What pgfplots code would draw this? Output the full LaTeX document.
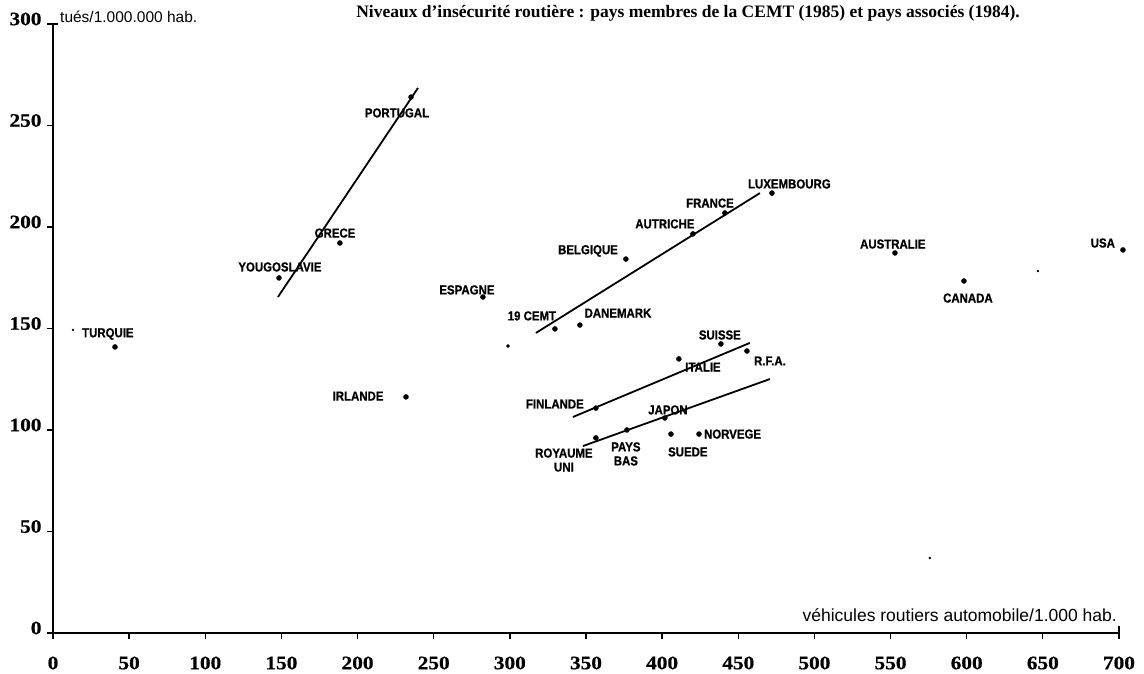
\documentclass[border=0pt]{standalone}
\usepackage{fontspec}
\usepackage{pgfplots}
\pgfplotsset{compat=1.18}
\setmainfont{Liberation Serif}
\newfontfamily\tickf[FakeStretch=1.12, FakeBold=0.6]{Liberation Serif}
\newfontfamily\labf[FakeStretch=0.88, FakeBold=0.8]{Liberation Sans}
\newfontfamily\axf{Liberation Sans}
\tikzset{lab/.style={font=\labf\bfseries\fontsize{13}{14}\selectfont, inner sep=0pt, align=center}}
\begin{document}
\begin{tikzpicture}
\useasboundingbox (0,0) rectangle (1144pt,674pt);
\begin{axis}[
  at={(53pt,41pt)}, anchor=south west,
  scale only axis, width=1066pt, height=609pt,
  xmin=0, xmax=700, ymin=0, ymax=300,
  clip=false,
  axis x line=bottom, axis y line=left,
  axis line style={-, line width=2.2pt, black},
  xtick={0,50,...,700}, ytick={0,50,...,300},
  tick align=outside, major tick length=6pt,
  tick style={line width=1.3pt, black},
  /pgf/number format/assume math mode=true,
  ticklabel style={font=\tickf\bfseries\fontsize{19}{19}\selectfont},
  xticklabel style={anchor=center, yshift=-24pt},
  yticklabel style={anchor=east, xshift=-2pt, yshift=5pt},
]
% regression lines
\addplot[black, line width=1.8pt] coordinates {(147.7,165.5) (239.7,268.5)};
\addplot[black, line width=1.8pt] coordinates {(317.1,147.8) (464.2,216.7)};
\addplot[black, line width=1.8pt] coordinates {(341.4,106.4) (457.6,142.9)};
\addplot[black, line width=1.8pt] coordinates {(348.0,92.1) (470.8,125.1)};
% countries
\addplot[only marks, mark=*, mark size=2.5pt, black] coordinates {
 (235.1,264.0) (188.4,192.1) (148.4,174.9) (282.3,165.5) (472.1,216.7)
 (441.2,206.9) (420.2,196.6) (376.2,184.2) (329.6,149.8) (346.0,151.7)
 (438.6,142.4) (455.7,138.9) (411.0,135.0) (356.5,110.8) (401.8,105.9)
 (356.5,96.1) (376.9,100.0) (405.8,98.0) (424.2,98.0) (40.7,140.9)
 (231.8,116.3) (552.9,187.2) (598.2,173.4) (702.6,188.7)};
\addplot[only marks, mark=*, mark size=1.6pt, black] coordinates {(298.8,141.4)};
\addplot[only marks, mark=*, mark size=1pt, black] coordinates {(13.1,149.3) (646.8,178.3) (575.8,36.9)};
% labels
\node[lab] at (axis cs:225.9,256.2) {PORTUGAL};
\node[lab] at (axis cs:185.2,197.0) {GRECE};
\node[lab] at (axis cs:149.0,180.3) {YOUGOSLAVIE};
\node[lab] at (axis cs:271.8,169.0) {ESPAGNE};
\node[lab, anchor=west] at (axis cs:456.3,221.2) {LUXEMBOURG};
\node[lab] at (axis cs:431.4,211.8) {FRANCE};
\node[lab] at (axis cs:401.8,201.5) {AUTRICHE};
\node[lab] at (axis cs:351.3,188.2) {BELGIQUE};
\node[lab] at (axis cs:314.5,156.2) {19 CEMT};
\node[lab] at (axis cs:371.0,157.6) {DANEMARK};
\node[lab] at (axis cs:437.9,146.8) {SUISSE};
\node[lab] at (axis cs:470.8,134.0) {R.F.A.};
\node[lab] at (axis cs:426.8,131.0) {ITALIE};
\node[lab] at (axis cs:329.6,112.8) {FINLANDE};
\node[lab] at (axis cs:403.8,109.9) {JAPON};
\node[lab] at (axis cs:335.5,85.2) {ROYAUME\\UNI};
\node[lab] at (axis cs:376.2,88.2) {PAYS\\BAS};
\node[lab] at (axis cs:416.9,89.2) {SUEDE};
\node[lab, anchor=west] at (axis cs:427.4,98.0) {NORVEGE};
\node[lab, anchor=west] at (axis cs:19.0,147.3) {TURQUIE};
\node[lab] at (axis cs:200.3,116.7) {IRLANDE};
\node[lab] at (axis cs:551.5,191.6) {AUSTRALIE};
\node[lab] at (axis cs:600.8,165.0) {CANADA};
\node[lab] at (axis cs:689.4,192.1) {USA};
% axis end hooks
\draw[line width=1.5pt] (axis cs:700,0) -- ++(0,7pt);
\draw[line width=1.5pt] (axis cs:0,300) -- ++(5pt,0);
\end{axis}
\node[font=\bfseries\fontsize{17.5}{17.5}\selectfont] at (688pt,661pt)
  {Niveaux d'insécurité routière : pays membres de la CEMT (1985) et pays associés (1984).};
\node[font=\axf\fontsize{15.5}{15.5}\selectfont, anchor=west, inner sep=0pt] at (60pt,657pt) {tués/1.000.000 hab.};
\node[font=\axf\fontsize{17.5}{17.5}\selectfont, anchor=east, inner sep=0pt] at (1117pt,59pt) {véhicules routiers automobile/1.000 hab.};
\end{tikzpicture}
\end{document}
